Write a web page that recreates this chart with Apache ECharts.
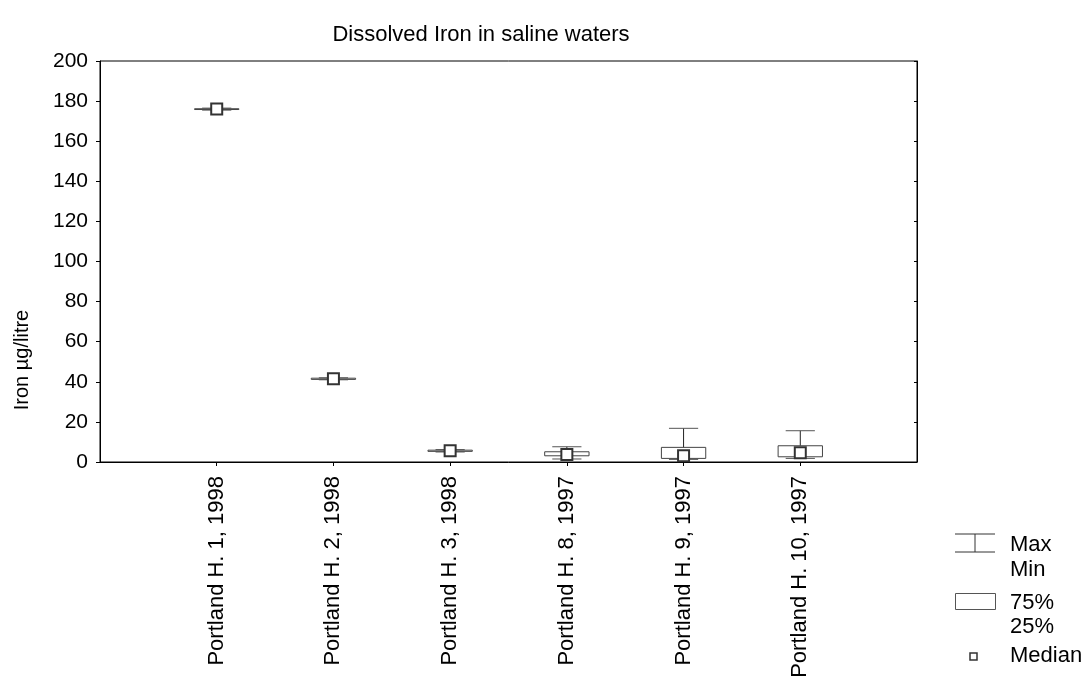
<!DOCTYPE html>
<html>
<head>
<meta charset="utf-8">
<script src="https://cdn.jsdelivr.net/npm/echarts@6/dist/echarts.min.js"></script>
<style>
  html, body { margin: 0; padding: 0; background: #fff; }
  #chart { width: 1085px; height: 677px; }
</style>
</head>
<body>
<div id="chart"></div>
<script>
// 站点名
var categories = ['Portland H. 1, 1998', 'Portland H. 2, 1998', 'Portland H. 3, 1998',
  'Portland H. 8, 1997', 'Portland H. 9, 1997', 'Portland H. 10, 1997']
var minVals = [175.5, 41.0, 5.0, 1.5, 1.3, 1.8]
var q1Vals = [175.8, 41.2, 5.3, 3.1, 1.8, 2.6]
var medianVals = [176.0, 41.5, 5.6, 3.8, 3.1, 4.6]
var q3Vals = [176.2, 41.8, 5.9, 5.1, 7.3, 8.1]
var maxVals = [176.5, 42.0, 6.2, 7.6, 16.8, 15.6]
var yTicks = [0, 20, 40, 60, 80, 100, 120, 140, 160, 180, 200]

var font = 'Liberation Sans, Arial, sans-serif'
var axisCats = [''].concat(categories).concat([''])

var boxData = categories.map(function (c, i) {
  return [i + 1, minVals[i], q1Vals[i], medianVals[i], q3Vals[i], maxVals[i]]
})

function renderBox (params, api) {
  var idx = api.value(0)
  var bw = api.size([1, 0])[0]
  var pMin = api.coord([idx, api.value(1)])
  var pQ1 = api.coord([idx, api.value(2)])
  var pMed = api.coord([idx, api.value(3)])
  var pQ3 = api.coord([idx, api.value(4)])
  var pMax = api.coord([idx, api.value(5)])
  var x = pMed[0]
  var boxHalf = bw * 0.19
  var capHalf = bw * 0.125
  var sq = 11
  return {
    type: 'group',
    children: [
      { type: 'line', shape: { x1: x, y1: pMax[1], x2: x, y2: pMin[1] },
        style: { stroke: '#222', lineWidth: 1 } },
      { type: 'rect', shape: { x: x - boxHalf, y: pQ3[1], width: boxHalf * 2, height: Math.max(pQ1[1] - pQ3[1], 0.5) },
        style: { fill: '#fff', stroke: '#444', lineWidth: 1 } },
      { type: 'line', shape: { x1: x - capHalf, y1: pMax[1], x2: x + capHalf, y2: pMax[1] },
        style: { stroke: '#555', lineWidth: 1 } },
      { type: 'line', shape: { x1: x - capHalf, y1: pMin[1], x2: x + capHalf, y2: pMin[1] },
        style: { stroke: '#555', lineWidth: 1 } },
      { type: 'rect', shape: { x: x - sq / 2, y: pMed[1] - sq / 2, width: sq, height: sq },
        style: { fill: '#fff', stroke: '#333', lineWidth: 2 } }
    ]
  }
}

var chart = echarts.init(document.getElementById('chart'))
chart.setOption({
  animation: false,
  title: {
    text: 'Dissolved Iron in saline waters',
    left: 476,
    textAlign: 'center',
    top: 19,
    textStyle: { fontFamily: font, fontSize: 22, fontWeight: 'normal', color: '#000' }
  },
  grid: {
    left: 100, right: 168, top: 61, bottom: 215,
    containLabel: false, outerBoundsMode: 'none',
    show: true, borderColor: '#000', borderWidth: 1
  },
  xAxis: {
    type: 'category',
    data: axisCats,
    boundaryGap: false,
    axisLine: { lineStyle: { color: '#000' } },
    axisTick: { length: 4, lineStyle: { color: '#000' }, interval: function (i, v) { return v !== '' } },
    axisLabel: { rotate: 90, interval: 0, margin: 14, fontFamily: font, fontSize: 22, color: '#000' },
    splitLine: { show: false }
  },
  yAxis: [{
    type: 'value',
    min: 0,
    max: 200,
    interval: 20,
    axisLine: { show: true, lineStyle: { color: '#000' } },
    axisTick: { show: true, length: 4, lineStyle: { color: '#000' } },
    axisLabel: {
      margin: 12, fontFamily: font, fontSize: 21, color: '#000',
      formatter: function (v) { return yTicks.indexOf(v) >= 0 ? String(v) : '' }
    },
    splitLine: { show: false }
  }, {
    type: 'value',
    min: 0,
    max: 200,
    interval: 20,
    position: 'right',
    axisLine: { show: true, lineStyle: { color: '#000' } },
    axisTick: { show: true, inside: true, length: 3, lineStyle: { color: '#000' } },
    axisLabel: { show: false },
    splitLine: { show: false }
  }],
  graphic: [
    { type: 'text', x: 22, y: 360, rotation: Math.PI / 2,
      style: { text: 'Iron µg/litre', font: '20px ' + font, fill: '#000', align: 'center', verticalAlign: 'middle' } },
    // 图例
    { type: 'line', shape: { x1: 955, y1: 534, x2: 995, y2: 534 }, style: { stroke: '#333', lineWidth: 1 } },
    { type: 'line', shape: { x1: 955, y1: 552, x2: 995, y2: 552 }, style: { stroke: '#333', lineWidth: 1 } },
    { type: 'line', shape: { x1: 975, y1: 534, x2: 975, y2: 552 }, style: { stroke: '#333', lineWidth: 1 } },
    { type: 'text', x: 1010, y: 545, style: { text: 'Max', font: '22px ' + font, fill: '#000', verticalAlign: 'middle' } },
    { type: 'text', x: 1010, y: 570, style: { text: 'Min', font: '22px ' + font, fill: '#000', verticalAlign: 'middle' } },
    { type: 'rect', shape: { x: 955.5, y: 593.5, width: 40, height: 16 }, style: { fill: '#fff', stroke: '#555', lineWidth: 1 } },
    { type: 'text', x: 1010, y: 603, style: { text: '75%', font: '22px ' + font, fill: '#000', verticalAlign: 'middle' } },
    { type: 'text', x: 1010, y: 627, style: { text: '25%', font: '22px ' + font, fill: '#000', verticalAlign: 'middle' } },
    { type: 'rect', shape: { x: 970, y: 653, width: 7, height: 7 }, style: { fill: '#fff', stroke: '#333', lineWidth: 1.5 } },
    { type: 'text', x: 1010, y: 656, style: { text: 'Median', font: '22px ' + font, fill: '#000', verticalAlign: 'middle' } }
  ],
  series: [{
    type: 'custom',
    name: 'Iron',
    renderItem: renderBox,
    encode: { x: 0, y: [1, 2, 3, 4, 5] },
    data: boxData,
    clip: false,
    z: 10
  }]
})
</script>
</body>
</html>
